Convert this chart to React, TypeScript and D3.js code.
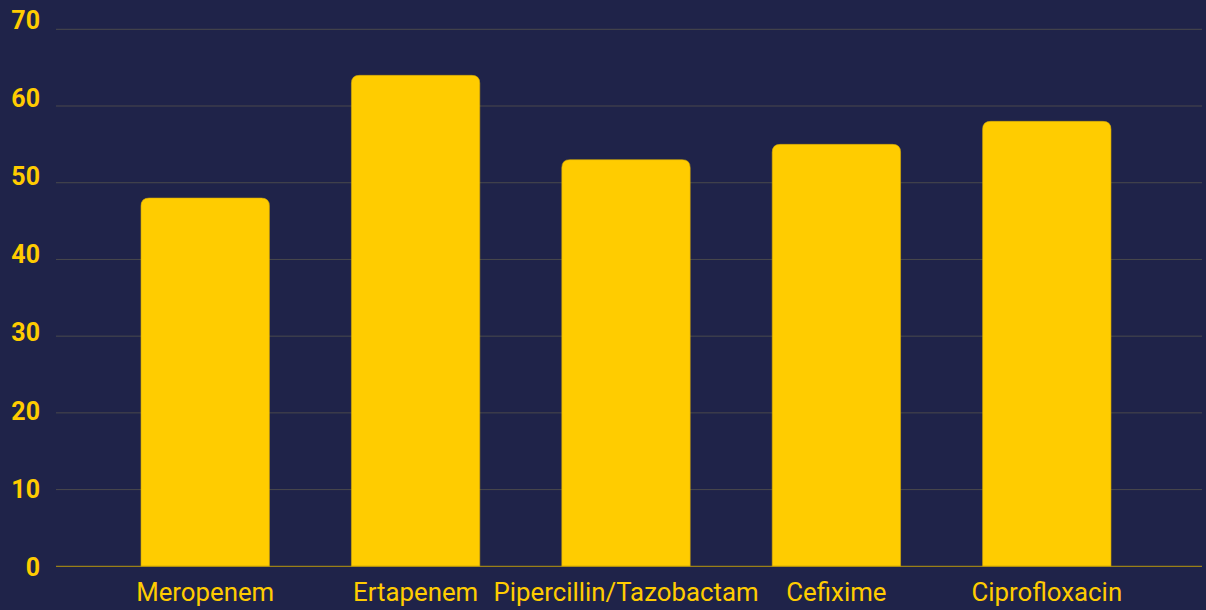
import React from "react";
import * as d3 from "d3";

const categories = ["Meropenem", "Ertapenem", "Pipercillin/Tazobactam", "Cefixime", "Ciprofloxacin"];
const values = [48, 64, 53, 55, 58];
const yTicks = [0, 10, 20, 30, 40, 50, 60, 70];

const W = 1206;
const H = 610;

export default function App() {
  const x = d3.scaleBand<string>().domain(categories).range([100, 1152]).padding(0);
  const y = d3.scaleLinear().domain([0, 70]).range([566.3, 29.3]);
  const yLabel = d3.scaleLinear().domain([0, 70]).range([567.5, 20]);
  const barW = x.bandwidth() * 0.61;
  const r = 8;

  const barPath = (x0: number, y0: number, w: number, h: number) => {
    const rr = Math.min(r, h / 2, w / 2);
    const path = d3.path();
    path.moveTo(x0, y0 + h);
    path.lineTo(x0, y0 + rr);
    path.quadraticCurveTo(x0, y0, x0 + rr, y0);
    path.lineTo(x0 + w - rr, y0);
    path.quadraticCurveTo(x0 + w, y0, x0 + w, y0 + rr);
    path.lineTo(x0 + w, y0 + h);
    path.closePath();
    return path.toString();
  };

  return (
    <svg
      width={W}
      height={H}
      style={{ position: "absolute", left: 0, top: 0, display: "block" }}
    >
      <rect x={0} y={0} width={W} height={H} fill="#1f2349" />
      {yTicks.filter((t) => t > 0).map((t) => (
        <line key={t} x1={56} x2={1202} y1={y(t)} y2={y(t)} stroke="#4a494c" strokeWidth={1} />
      ))}
      {categories.map((c, i) => {
        const cx = (x(c) as number) + x.bandwidth() / 2;
        const top = y(values[i]);
        return (
          <path
            key={c}
            d={barPath(cx - barW / 2, top, barW, y(0) - top)}
            fill="#ffcc00"
            stroke="#d9ad05"
            strokeWidth={0.6}
          />
        );
      })}
      <line x1={56} x2={1202} y1={y(0)} y2={y(0)} stroke="#b8960c" strokeWidth={1} />
      {yTicks.map((t) => (
        <text
          key={t}
          x={40}
          y={yLabel(t)}
          textAnchor="end"
          dominantBaseline="central"
          fill="#ffcc00"
          fontFamily="Roboto, sans-serif"
          fontWeight={700}
          fontSize={25}
        >
          {t}
        </text>
      ))}
      {categories.map((c) => (
        <text
          key={c}
          x={(x(c) as number) + x.bandwidth() / 2}
          y={601}
          textAnchor="middle"
          fill="#ffcc00"
          fontFamily="Roboto, sans-serif"
          fontSize={25.8}
        >
          {c}
        </text>
      ))}
    </svg>
  );
}
